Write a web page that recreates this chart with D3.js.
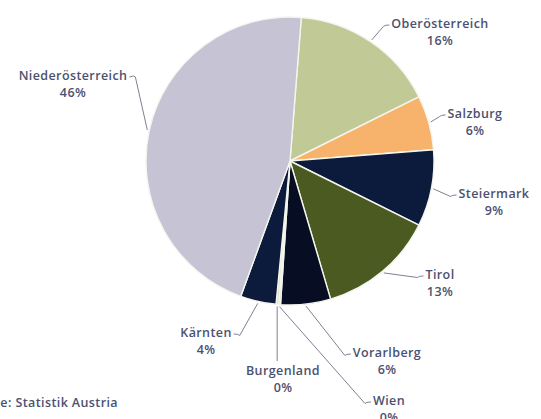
<!DOCTYPE html>
<html>
<head>
<meta charset="utf-8">
<script src="https://cdn.jsdelivr.net/npm/d3@7"></script>
<style>
  html, body { margin: 0; padding: 0; background: #fff; }
  svg { display: block; }
  text { font-family: "Open Sans", "DejaVu Sans", sans-serif; font-weight: 600; letter-spacing: 0.4px; }
</style>
</head>
<body>
<svg id="chart" width="541" height="419"></svg>
<script>
// Federal states and their share (%)
const regions = ["Oberösterreich", "Salzburg", "Steiermark", "Tirol", "Vorarlberg", "Wien", "Burgenland", "Kärnten", "Niederösterreich"];
const shares  = [16.4, 6.1, 8.6, 13.1, 5.6, 0.2, 0.3, 4.0, 45.7];
const colors  = ["#c1c996", "#f7b36b", "#0c1a3c", "#4a5a20", "#070d22", "#c9cfa6", "#dfe2cc", "#0c1a3c", "#c6c4d4"];
const sourceText = "Quelle: Statistik Austria";

// Label placement: text centre (x, y of first line) and where the connector attaches
const labelLayout = {
  "Oberösterreich":   { x: 440, y: 23,  side: "left"  },
  "Salzburg":         { x: 475, y: 113, side: "left"  },
  "Steiermark":       { x: 494, y: 193, side: "left"  },
  "Tirol":            { x: 440, y: 274, side: "left"  },
  "Vorarlberg":       { x: 387, y: 352, side: "left"  },
  "Wien":             { x: 389, y: 400, side: "left"  },
  "Burgenland":       { x: 283, y: 370, side: "top"   },
  "Kärnten":          { x: 206, y: 332, side: "right" },
  "Niederösterreich": { x: 73,  y: 75,  side: "right" }
};

const svg = d3.select("#chart");
const cx = 290, cy = 161, radius = 144;
const textColor = "#4b5170";
const lineColor = "#7d8192";
const fontSize = 12.5;

const start = 4.5 * Math.PI / 180;
const pie = d3.pie().sort(null).value(d => d.value)
  .startAngle(start).endAngle(start + 2 * Math.PI);
const data = regions.map((name, i) => ({ name, value: shares[i], color: colors[i] }));
const arcs = pie(data);

const arc = d3.arc().innerRadius(0).outerRadius(radius);

const g = svg.append("g").attr("transform", `translate(${cx},${cy})`);
g.selectAll("path.slice")
  .data(arcs)
  .join("path")
  .attr("class", "slice")
  .attr("d", arc)
  .attr("fill", d => d.data.color)
  .attr("stroke", "#f4f6ee")
  .attr("stroke-width", 1.4)
  .attr("stroke-linejoin", "round");

// Labels with connectors
const labels = svg.append("g");
arcs.forEach(d => {
  const L = labelLayout[d.data.name];
  const t = labels.append("text")
    .attr("x", L.x).attr("y", L.y + 4.5)
    .attr("text-anchor", "middle")
    .attr("font-size", fontSize)
    .attr("fill", textColor)
    .text(d.data.name);
  labels.append("text")
    .attr("x", L.x).attr("y", L.y + 21.5)
    .attr("text-anchor", "middle")
    .attr("font-size", fontSize)
    .attr("fill", textColor)
    .text(Math.round(d.data.value) + "%");

  const w = t.node().getComputedTextLength();
  const a = (d.startAngle + d.endAngle) / 2;
  const sx = cx + (radius + 2) * Math.sin(a);
  const sy = cy - (radius + 2) * Math.cos(a);
  let p;
  if (L.side === "top") {
    p = `M${sx},${sy}L${sx},${L.y - 9}`;
  } else {
    const dir = L.side === "left" ? 1 : -1;
    const ex = L.side === "left" ? L.x - w / 2 - 2 : L.x + w / 2 + 2;
    const ey = L.y + 2;
    const kx = ex - dir * 6;
    if (L.side === "right" && sy > ey + 20) {
      // going down to the slice from a label above it
      p = `M${ex},${ey}Q${ex - dir * 5},${ey - 2} ${kx},${ey}L${sx},${sy}`;
    } else {
      p = `M${sx},${sy}L${kx},${ey + 1.5}Q${ex - dir * 5},${ey} ${ex},${ey}`;
    }
  }
  labels.append("path")
    .attr("d", p)
    .attr("fill", "none")
    .attr("stroke", lineColor)
    .attr("stroke-width", 1);
});

// Source line
svg.append("text")
  .attr("x", 118).attr("y", 407)
  .attr("text-anchor", "end")
  .attr("font-size", fontSize)
  .attr("fill", textColor)
  .text(sourceText);
</script>
</body>
</html>
